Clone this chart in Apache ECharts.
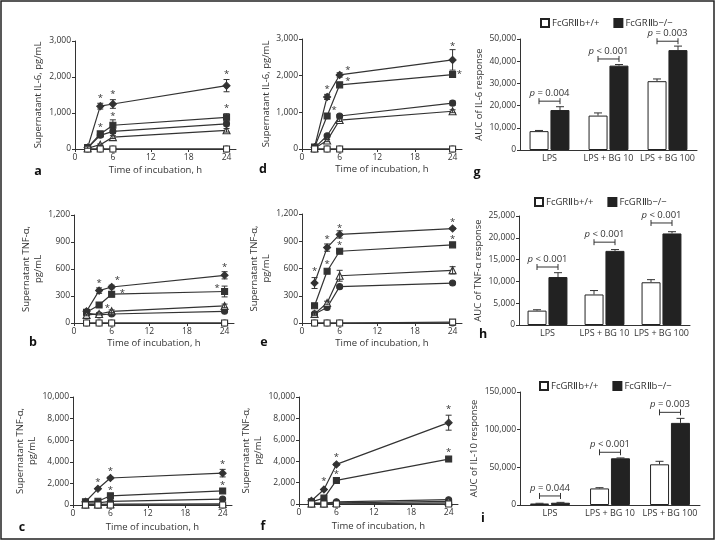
<!DOCTYPE html>
<html><head><meta charset="utf-8">
<script src="https://cdn.jsdelivr.net/npm/echarts@6/dist/echarts.min.js"></script>
<style>html,body{margin:0;padding:0;background:#fff}#c{width:716px;height:549px}</style>
</head><body><div id="c"></div>
<script>
// ---------- shared ----------
const timePoints = [2, 4, 6, 24];
const xTicks = [0, 6, 12, 18, 24];
const barCategories = ['LPS', 'LPS + BG 10', 'LPS + BG 100'];
const groupNames = ['FcGRⅡb+/+', 'FcGRⅡb−/−'];

// ---------- panel a: IL-6 ----------
const a_s1 = [40, 1190, 1250, 1760];   const a_e1 = [20, 80, 120, 170];
const a_s2 = [40, 420, 660, 880];      const a_e2 = [0, 60, 150, 100];
const a_s3 = [30, 380, 490, 700];      const a_e3 = [0, 40, 60, 60];
const a_s4 = [20, 120, 330, 520];      const a_e4 = [0, 20, 40, 50];
const a_s5 = [0, 0, 0, 0];             const a_s6 = [0, 0, 0, 0];
const a_stars = [[4, 1420], [6, 1510], [24, 2075], [4, 590], [6, 895], [24, 1125]];

// ---------- panel d: IL-6 ----------
const d_s1 = [50, 1420, 2020, 2430];   const d_e1 = [0, 70, 60, 280];
const d_s2 = [50, 900, 1750, 2030];    const d_e2 = [0, 0, 40, 30];
const d_s3 = [30, 360, 900, 1250];     const d_e3 = [0, 30, 40, 60];
const d_s4 = [20, 230, 790, 1030];     const d_e4 = [0, 30, 40, 40];
const d_s5 = [0, 0, 0, 0];             const d_s6 = [0, 0, 0, 0];
const d_stars = [[4, 1630], [7.3, 2140], [7.3, 1860], [5.1, 1050], [24, 2800], [25.1, 2050]];

// ---------- panel b: TNF-α ----------
const b_s1 = [130, 360, 400, 530];     const b_e1 = [10, 30, 20, 40];
const b_s2 = [120, 200, 320, 350];     const b_e2 = [0, 10, 30, 60];
const b_s3 = [110, 90, 100, 130];      const b_e3 = [0, 0, 10, 10];
const b_s4 = [90, 100, 130, 190];      const b_e4 = [10, 10, 15, 20];
const b_s5 = [0, 0, 0, 0];             const b_s6 = [0, 0, 0, 0];
const b_stars = [[4, 443], [6.9, 480], [24, 617], [22.8, 388], [7.7, 325], [5.3, 166]];

// ---------- panel e: TNF-α ----------
const e_s1 = [440, 830, 975, 1040];    const e_e1 = [60, 40, 40, 10];
const e_s2 = [190, 570, 790, 860];     const e_e2 = [10, 20, 10, 15];
const e_s3 = [100, 170, 400, 440];     const e_e3 = [10, 10, 15, 10];
const e_s4 = [100, 220, 520, 580];     const e_e4 = [15, 20, 60, 40];
const e_s5 = [0, 0, 0, 0];             const e_s6 = [0, 0, 0, 10];
const e_stars = [[2, 569], [4, 917], [6, 1046], [24, 1112], [4, 642], [6, 851], [24, 925]];

// ---------- panel c: TNF-α ----------
const c_s1 = [300, 1500, 2500, 2950];  const c_e1 = [0, 80, 100, 350];
const c_s2 = [300, 350, 850, 1300];    const c_e2 = [0, 0, 50, 100];
const c_s3 = [200, 200, 330, 550];     const c_e3 = [0, 0, 30, 50];
const c_s4 = [50, 50, 80, 100];        const c_e4 = [0, 0, 0, 0];
const c_s5 = [0, 0, 0, 0];             const c_s6 = [0, 0, 0, 0];
const c_stars = [[4, 2105], [6, 3096], [24, 3808], [6, 1393], [24, 1796]];

// ---------- panel f: TNF-α ----------
const f_s1 = [300, 1350, 3700, 7600];  const f_e1 = [0, 60, 100, 700];
const f_s2 = [200, 550, 2200, 4200];   const f_e2 = [0, 50, 100, 100];
const f_s3 = [100, 50, 200, 400];      const f_e3 = [0, 0, 0, 0];
const f_s4 = [50, 50, 100, 250];       const f_e4 = [0, 0, 0, 0];
const f_s5 = [0, 0, 0, 100];           const f_s6 = [0, 0, 0, 0];
const f_stars = [[4, 2118], [6, 4361], [6, 2804], [24, 8816], [24, 4829]];

// ---------- panel g: AUC IL-6 ----------
const g_wt = [8500, 15500, 31000];     const g_wtErr = [300, 1200, 1000];
const g_ko = [18000, 38000, 45000];    const g_koErr = [1500, 500, 1800];
const g_pText = ['= 0.004', '< 0.001', '= 0.003'];
const g_pY = [22000, 41000, 49000];

// ---------- panel h: AUC TNF-α ----------
const h_wt = [3300, 7000, 9800];       const h_wtErr = [200, 900, 600];
const h_ko = [11000, 17000, 21000];    const h_koErr = [1000, 300, 400];
const h_pText = ['< 0.001', '< 0.001', '< 0.001'];
const h_pY = [13300, 19000, 23400];

// ---------- panel i: AUC IL-10 ----------
const i_wt = [2000, 22000, 54000];     const i_wtErr = [300, 1000, 4000];
const i_ko = [3000, 62000, 109000];    const i_koErr = [500, 500, 6000];
const i_pText = ['= 0.044', '< 0.001', '= 0.003'];
const i_pY = [12000, 70000, 123000];

// ---------- building ----------
const FONT = 'Open Sans';
const INK = '#333';
const fmt = v => String(v).replace(/\B(?=(\d{3})+(?!\d))/g, ',');
const grids = [], xAxes = [], yAxes = [], series = [], legends = [];
const markerSymbols = ['diamond', 'rect', 'circle', 'triangle', 'circle', 'rect'];
const markerSizes = [7, 6, 6, 7, 6, 6];
const markerFilled = [true, true, true, false, false, false];
const nameStyle = {fontFamily: FONT, fontSize: 9.5, color: INK, lineHeight: 12};
const tickLabel = {fontFamily: FONT, fontSize: 8.5, color: INK};

function lineSeg(x1, y1, x2, y2) {
  return {type: 'line', shape: {x1, y1, x2, y2}, style: {stroke: INK, lineWidth: 1}};
}
function renderLineErr(params, api) {
  const x = api.value(0), y = api.value(1), e = api.value(2);
  const t = api.coord([x, y + e]), b = api.coord([x, Math.max(0, y - e)]);
  const cap = 3;
  return {type: 'group', children: [
    lineSeg(t[0], t[1], b[0], b[1]),
    lineSeg(t[0] - cap, t[1], t[0] + cap, t[1]),
    lineSeg(b[0] - cap, b[1], b[0] + cap, b[1])
  ]};
}
function renderStar(params, api) {
  const p = api.coord([api.value(0), api.value(1)]);
  return {type: 'text', x: p[0], y: p[1],
    style: {text: '*', fontFamily: FONT, fontSize: 9.5, fill: INK, align: 'center', verticalAlign: 'middle'}};
}
const BAR_W = 19, BAR_OFF = 10.5;
function renderBarErr(params, api) {
  const c = api.coord([api.value(0), api.value(1)]);
  const t = api.coord([api.value(0), api.value(1) + api.value(2)]);
  const x = c[0] + api.value(3) * BAR_OFF;
  const cap = 4;
  return {type: 'group', children: [
    lineSeg(x, c[1], x, t[1]),
    lineSeg(x - cap, t[1], x + cap, t[1])
  ]};
}
function bracketRenderer(texts) {
  return function (params, api) {
    const c = api.coord([api.value(0), api.value(1)]);
    const h = BAR_OFF;
    return {type: 'group', children: [
      lineSeg(c[0] - h, c[1], c[0] + h, c[1]),
      lineSeg(c[0] - h, c[1] - 3, c[0] - h, c[1] + 3),
      lineSeg(c[0] + h, c[1] - 3, c[0] + h, c[1] + 3),
      {type: 'text', x: c[0], y: c[1] - 3, style: {
        text: '{it|p} ' + texts[params.dataIndex],
        rich: {it: {fontStyle: 'italic', fontFamily: FONT, fontSize: 9.5, fill: INK}},
        fontFamily: FONT, fontSize: 9.5, fill: INK, align: 'center', verticalAlign: 'bottom'}}
    ]};
  };
}

function addLinePanel(p) {
  const gi = grids.length;
  grids.push(Object.assign({containLabel: false, outerBoundsMode: 'none'}, p.grid));
  xAxes.push({gridIndex: gi, type: 'value', min: 0, max: 25.5,
    axisLine: {lineStyle: {color: INK, width: 1}},
    axisTick: {customValues: xTicks, length: 3, lineStyle: {color: INK}},
    axisLabel: Object.assign({customValues: xTicks, margin: 4}, tickLabel),
    splitLine: {show: false},
    name: 'Time of incubation, h', nameLocation: 'middle', nameGap: p.xGap, nameTextStyle: nameStyle});
  yAxes.push({gridIndex: gi, type: 'value', min: 0, max: p.ymax, interval: p.yint,
    axisLine: {show: true, lineStyle: {color: INK, width: 1}},
    axisTick: {show: true, length: 3, lineStyle: {color: INK}},
    axisLabel: Object.assign({margin: 4, formatter: fmt}, tickLabel),
    splitLine: {show: false},
    name: p.yName, nameLocation: 'middle', nameGap: p.yGap, nameTextStyle: nameStyle});
  p.values.forEach((vals, k) => {
    series.push({type: 'line', xAxisIndex: gi, yAxisIndex: gi,
      data: timePoints.map((t, i) => [t, vals[i]]),
      symbol: markerSymbols[k], symbolSize: markerSizes[k], showAllSymbol: true,
      lineStyle: {color: INK, width: 1.2},
      itemStyle: {color: markerFilled[k] ? INK : '#fff', borderColor: INK, borderWidth: 1.1},
      emphasis: {disabled: true}, z: 3 + (markerFilled[k] ? 0 : 1)});
  });
  const errData = [];
  p.values.forEach((vals, k) => vals.forEach((v, i) => {
    const e = (p.errors[k] || [])[i] || 0;
    if (e > 0) errData.push([timePoints[i], v, e]);
  }));
  series.push({type: 'custom', xAxisIndex: gi, yAxisIndex: gi, data: errData,
    encode: {x: 0, y: 1}, renderItem: renderLineErr, z: 5});
  series.push({type: 'custom', xAxisIndex: gi, yAxisIndex: gi, data: p.stars,
    encode: {x: 0, y: 1}, renderItem: renderStar, z: 5});
}

function addBarPanel(p) {
  const gi = grids.length;
  grids.push(Object.assign({containLabel: false, outerBoundsMode: 'none'}, p.grid));
  xAxes.push({gridIndex: gi, type: 'category', data: barCategories,
    axisLine: {lineStyle: {color: INK, width: 1}},
    axisTick: {alignWithLabel: true, length: 3, lineStyle: {color: INK}},
    axisLabel: Object.assign({margin: 4, interval: 0}, tickLabel, {fontSize: 9})});
  yAxes.push({gridIndex: gi, type: 'value', min: 0, max: p.ymax, interval: p.yint,
    axisLine: {show: true, lineStyle: {color: INK, width: 1}},
    axisTick: {show: true, length: 3, lineStyle: {color: INK}},
    axisLabel: Object.assign({margin: 4, formatter: fmt}, tickLabel),
    splitLine: {show: false},
    name: p.yName, nameLocation: 'middle', nameGap: p.yGap, nameTextStyle: nameStyle});
  series.push({type: 'bar', name: groupNames[0], xAxisIndex: gi, yAxisIndex: gi, data: p.wt,
    barWidth: BAR_W, barGap: '10%', itemStyle: {color: '#fff', borderColor: '#222', borderWidth: 1}});
  series.push({type: 'bar', name: groupNames[1], xAxisIndex: gi, yAxisIndex: gi, data: p.ko,
    barWidth: BAR_W, barGap: '10%', itemStyle: {color: '#222', borderColor: '#222', borderWidth: 1}});
  const errData = [];
  p.wt.forEach((v, i) => errData.push([i, v, p.wtErr[i], -1]));
  p.ko.forEach((v, i) => errData.push([i, v, p.koErr[i], 1]));
  series.push({type: 'custom', xAxisIndex: gi, yAxisIndex: gi, data: errData,
    encode: {x: 0, y: 1}, renderItem: renderBarErr, z: 4});
  series.push({type: 'custom', xAxisIndex: gi, yAxisIndex: gi,
    data: p.pY.map((y, i) => [i, y]), encode: {x: 0, y: 1},
    renderItem: bracketRenderer(p.pText), z: 5});
  legends.push({data: groupNames, left: p.legend[0], top: p.legend[1], padding: 0,
    itemWidth: 8, itemHeight: 8, itemGap: 14, icon: 'rect', selectedMode: false,
    textStyle: {fontFamily: FONT, fontSize: 9.5, color: INK, padding: [0, 0, 0, -2]}});
}

const IL6 = 'Supernatant IL-6, pg/mL';
const TNF = 'Supernatant TNF-α,\npg/mL';
addLinePanel({grid: {left: 75, top: 41, width: 161, height: 108}, ymax: 3000, yint: 1000, yName: IL6, yGap: 31, xGap: 15,
  values: [a_s1, a_s2, a_s3, a_s4, a_s5, a_s6], errors: [a_e1, a_e2, a_e3, a_e4], stars: a_stars});
addLinePanel({grid: {left: 302, top: 39, width: 160, height: 110}, ymax: 3000, yint: 1000, yName: IL6, yGap: 29, xGap: 14,
  values: [d_s1, d_s2, d_s3, d_s4, d_s5, d_s6], errors: [d_e1, d_e2, d_e3, d_e4], stars: d_stars});
addBarPanel({grid: {left: 520, top: 39, width: 177, height: 111}, ymax: 50000, yint: 10000,
  yName: 'AUC of IL-6 response', yGap: 33, legend: [540, 18],
  wt: g_wt, wtErr: g_wtErr, ko: g_ko, koErr: g_koErr, pText: g_pText, pY: g_pY});
addLinePanel({grid: {left: 74, top: 215, width: 160, height: 108}, ymax: 1200, yint: 300, yName: TNF, yGap: 30, xGap: 14,
  values: [b_s1, b_s2, b_s3, b_s4, b_s5, b_s6], errors: [b_e1, b_e2, b_e3, b_e4], stars: b_stars});
addLinePanel({grid: {left: 302, top: 214, width: 160, height: 109}, ymax: 1200, yint: 300, yName: TNF, yGap: 22, xGap: 14,
  values: [e_s1, e_s2, e_s3, e_s4, e_s5, e_s6], errors: [e_e1, e_e2, e_e3, e_e4], stars: e_stars});
addBarPanel({grid: {left: 519, top: 216, width: 171, height: 109}, ymax: 25000, yint: 5000,
  yName: 'AUC of TNF-α response', yGap: 30, legend: [534, 197],
  wt: h_wt, wtErr: h_wtErr, ko: h_ko, koErr: h_koErr, pText: h_pText, pY: h_pY});
addLinePanel({grid: {left: 73, top: 397, width: 159, height: 108}, ymax: 10000, yint: 2000, yName: TNF, yGap: 33, xGap: 16,
  values: [c_s1, c_s2, c_s3, c_s4, c_s5, c_s6], errors: [c_e1, c_e2, c_e3, c_e4], stars: c_stars});
addLinePanel({grid: {left: 299, top: 397, width: 159, height: 107}, ymax: 10000, yint: 2000, yName: TNF, yGap: 32, xGap: 16,
  values: [f_s1, f_s2, f_s3, f_s4, f_s5, f_s6], errors: [f_e1, f_e2, f_e3, f_e4], stars: f_stars});
addBarPanel({grid: {left: 520, top: 392, width: 180, height: 113}, ymax: 150000, yint: 50000,
  yName: 'AUC of IL-10 response', yGap: 35, legend: [539, 381],
  wt: i_wt, wtErr: i_wtErr, ko: i_ko, koErr: i_koErr, pText: i_pText, pY: i_pY});

const letters = [['a', 38, 171], ['d', 263, 169], ['g', 477, 172], ['b', 33, 342], ['e', 264, 342],
  ['h', 483, 334], ['c', 22, 527], ['f', 263, 526], ['i', 483, 518]];
const graphics = [{type: 'rect', shape: {x: 1, y: 1, width: 713, height: 538},
  style: {fill: 'none', stroke: '#222', lineWidth: 1.5}, silent: true}];
letters.forEach(([t, x, y]) => graphics.push({type: 'text', x, y,
  style: {text: t, fontFamily: FONT, fontSize: 12.5, fontWeight: 'bold', fill: '#111', align: 'center', verticalAlign: 'middle'}}));

const chart = echarts.init(document.getElementById('c'), null, {renderer: 'canvas'});
chart.setOption({
  animation: false,
  backgroundColor: '#fff',
  grid: grids, xAxis: xAxes, yAxis: yAxes, series, legend: legends,
  graphic: graphics
});
</script></body></html>
